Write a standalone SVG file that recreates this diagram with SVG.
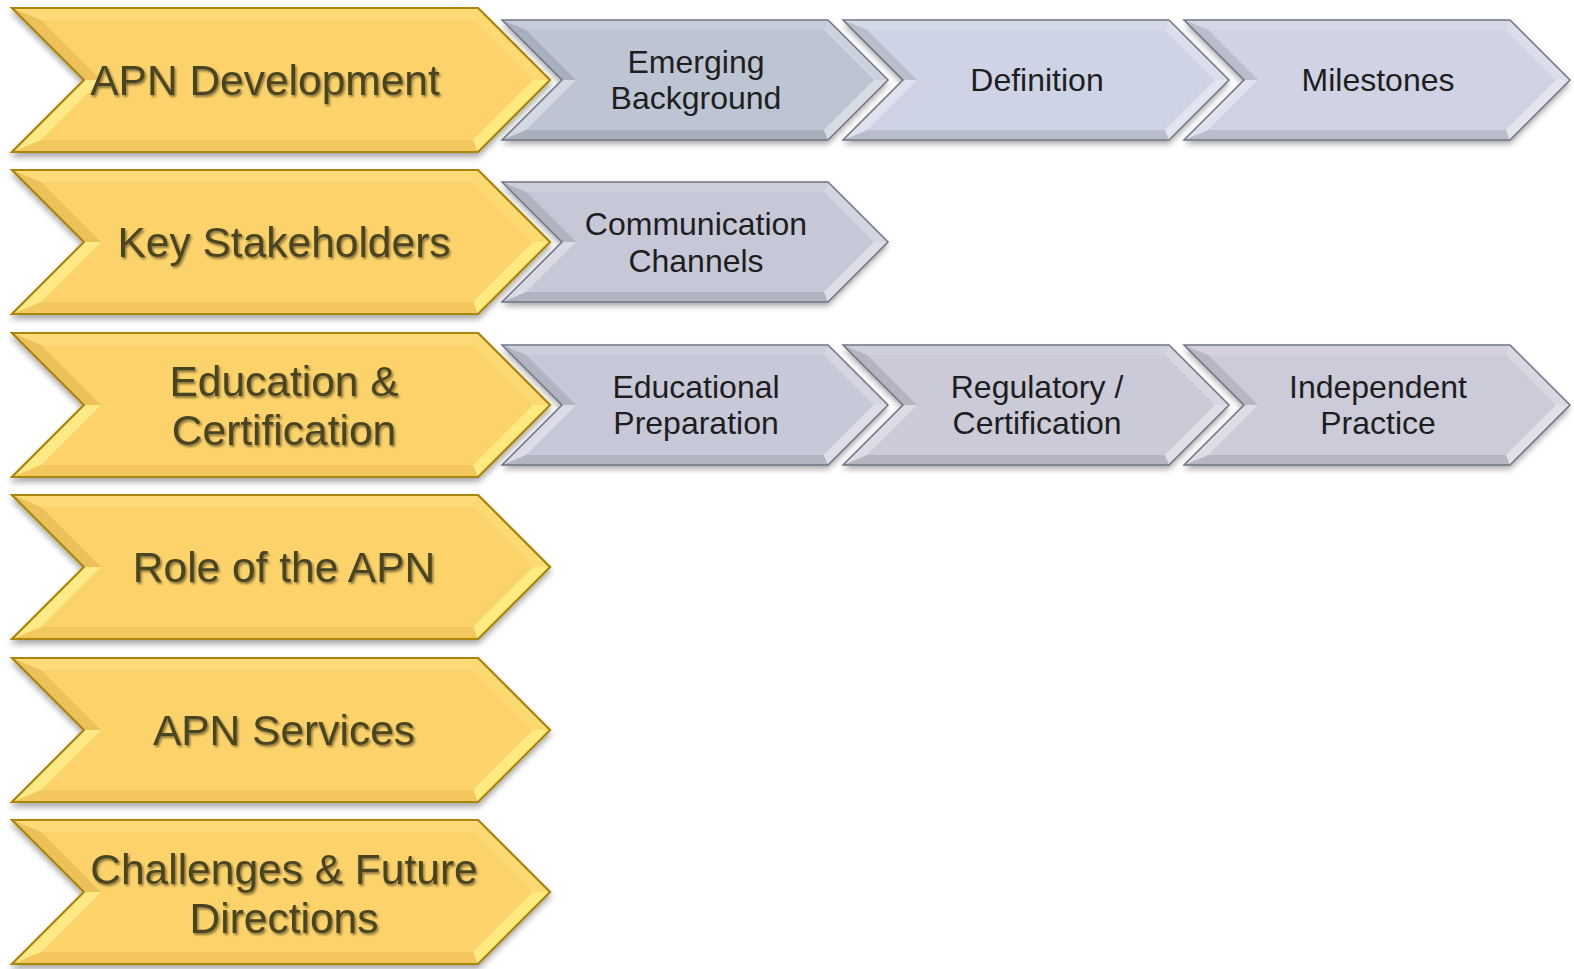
<svg xmlns="http://www.w3.org/2000/svg" xmlns:xlink="http://www.w3.org/1999/xlink" width="1574" height="969" viewBox="0 0 1574 969">
<defs>
<style>
.gt{font-family:"Liberation Sans",Arial,sans-serif;font-size:42.5px;fill:#4A4420;text-anchor:middle;filter:url(#ts)}
.st{font-family:"Liberation Sans",Arial,sans-serif;font-size:32px;fill:#1E1E1E;text-anchor:middle}
</style>
<filter id="sh" x="-5%" y="-10%" width="110%" height="130%">
<feDropShadow dx="0" dy="4" stdDeviation="3" flood-color="#000" flood-opacity="0.35"/>
</filter>
<filter id="ts" x="-5%" y="-20%" width="110%" height="150%">
<feDropShadow dx="1.5" dy="2" stdDeviation="1.2" flood-color="#000" flood-opacity="0.45"/>
</filter>
<g id="goldShape">
<polygon points="0,0 466,0 538,72 466,144 0,144 72,72" fill="#FCD36A" stroke="#A9860C" stroke-width="2" filter="url(#sh)"/>
<polygon points="0,0 466,0 461.03,12 28.97,12" fill="#FFDA78"/>
<polygon points="466,0 538,72 521.03,72 461.03,12" fill="#FBDA74"/>
<polygon points="538,72 466,144 461.03,132 521.03,72" fill="#FFEA80"/>
<polygon points="466,144 0,144 28.97,132 461.03,132" fill="#F3C75E"/>
<polygon points="0,144 72,72 88.97,72 28.97,132" fill="#FFE886"/>
<polygon points="72,72 0,0 28.97,12 88.97,72" fill="#ECC05A"/>
<polygon points="0,0 466,0 538,72 466,144 0,144 72,72" fill="none" stroke="#A9860C" stroke-width="2"/>
</g>
<g id="grayShape">
<polygon points="0,0 326,0 386,60 326,120 0,120 60,60" filter="url(#sh)"/>
<polygon points="0,0 326,0 321.86,10 24.14,10" fill="#FFFFFF" fill-opacity="0.12"/>
<polygon points="326,0 386,60 371.86,60 321.86,10" fill="#FFFFFF" fill-opacity="0.25"/>
<polygon points="386,60 326,120 321.86,110 371.86,60" fill="#FFFFFF" fill-opacity="0.4"/>
<polygon points="326,120 0,120 24.14,110 321.86,110" fill="#000000" fill-opacity="0.1"/>
<polygon points="0,120 60,60 74.14,60 24.14,110" fill="#FFFFFF" fill-opacity="0.35"/>
<polygon points="60,60 0,0 24.14,10 74.14,60" fill="#000000" fill-opacity="0.1"/>
<polygon points="0,0 326,0 386,60 326,120 0,120 60,60" fill="none" stroke="#6F7585" stroke-width="1.5"/>
</g>
</defs>
<rect width="1574" height="969" fill="#FFFFFF"/>
<g id="connectors"/>

<g id="emerging-background">
<use xlink:href="#grayShape" href="#grayShape" transform="translate(502,20)" fill="#BDC4D3"/>
<text class="st" x="696" y="73">Emerging</text>
<text class="st" x="696" y="109">Background</text>
</g>
<g id="definition">
<use xlink:href="#grayShape" href="#grayShape" transform="translate(843,20)" fill="#CED4E5"/>
<text class="st" x="1037" y="91">Definition</text>
</g>
<g id="milestones">
<use xlink:href="#grayShape" href="#grayShape" transform="translate(1184,20)" fill="#D0D3E3"/>
<text class="st" x="1378" y="91">Milestones</text>
</g>
<g id="communication-channels">
<use xlink:href="#grayShape" href="#grayShape" transform="translate(502,182)" fill="#C6C8D7"/>
<text class="st" x="696" y="235">Communication</text>
<text class="st" x="696" y="272">Channels</text>
</g>
<g id="educational-preparation">
<use xlink:href="#grayShape" href="#grayShape" transform="translate(502,345)" fill="#C8C9D8"/>
<text class="st" x="696" y="398">Educational</text>
<text class="st" x="696" y="434">Preparation</text>
</g>
<g id="regulatory-certification">
<use xlink:href="#grayShape" href="#grayShape" transform="translate(843,345)" fill="#CACAD8"/>
<text class="st" x="1037" y="398">Regulatory /</text>
<text class="st" x="1037" y="434">Certification</text>
</g>
<g id="independent-practice">
<use xlink:href="#grayShape" href="#grayShape" transform="translate(1184,345)" fill="#CCCBD9"/>
<text class="st" x="1378" y="398">Independent</text>
<text class="st" x="1378" y="434">Practice</text>
</g>

<g id="apn-development">
<use xlink:href="#goldShape" href="#goldShape" transform="translate(12,8)"/>
<text class="gt" x="265" y="95">APN Development</text>
</g>
<g id="key-stakeholders">
<use xlink:href="#goldShape" href="#goldShape" transform="translate(12,170)"/>
<text class="gt" x="284" y="257">Key Stakeholders</text>
</g>
<g id="education-certification">
<use xlink:href="#goldShape" href="#goldShape" transform="translate(12,333)"/>
<text class="gt" x="284" y="396">Education &amp;</text>
<text class="gt" x="284" y="445">Certification</text>
</g>
<g id="role-of-the-apn">
<use xlink:href="#goldShape" href="#goldShape" transform="translate(12,495)"/>
<text class="gt" x="284" y="582">Role of the APN</text>
</g>
<g id="apn-services">
<use xlink:href="#goldShape" href="#goldShape" transform="translate(12,658)"/>
<text class="gt" x="284" y="745">APN Services</text>
</g>
<g id="challenges-future-directions">
<use xlink:href="#goldShape" href="#goldShape" transform="translate(12,820)"/>
<text class="gt" x="284" y="884">Challenges &amp; Future</text>
<text class="gt" x="284" y="933">Directions</text>
</g>
</svg>
